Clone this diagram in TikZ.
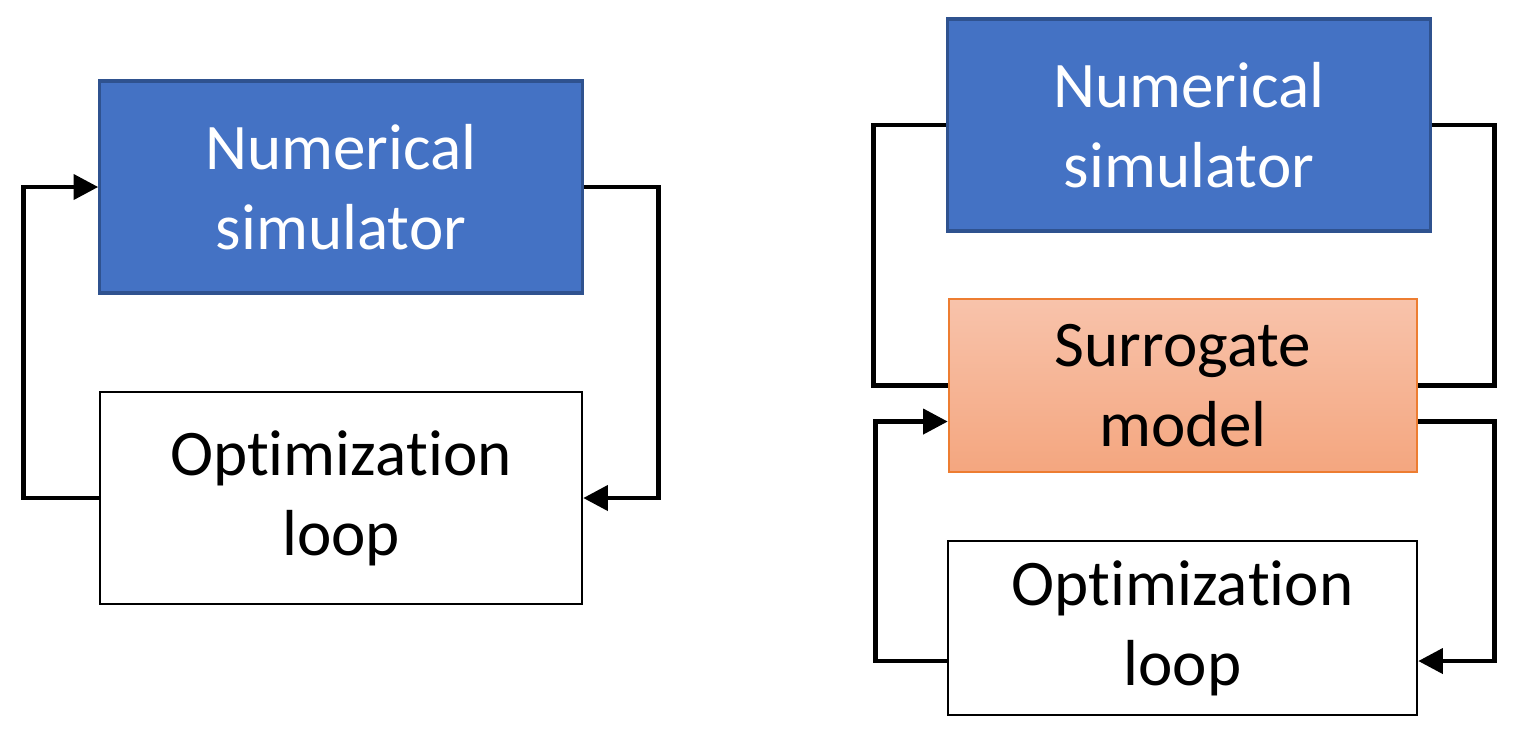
\documentclass[tikz,border=0pt]{standalone}
\usepackage{fontspec}
\setmainfont{Carlito}[Ligatures=NoCommon]
\usetikzlibrary{arrows.meta,positioning}
\definecolor{simfill}{HTML}{4472C4}
\definecolor{simedge}{HTML}{2F528F}
\definecolor{surtop}{HTML}{F8C3AB}
\definecolor{surbot}{HTML}{F4A67F}
\definecolor{suredge}{HTML}{ED7D31}
\tikzset{
  box/.style={rectangle, align=center, inner sep=0pt, font=\fontsize{18.5}{22.8}\selectfont},
  simbox/.style={box, fill=simfill, draw=simedge, line width=0.9pt, text=white, minimum width=4.82cm, minimum height=2.12cm},
  surbox/.style={box, top color=surtop, bottom color=surbot, draw=suredge, line width=0.6pt},
  optbox/.style={box, fill=white, draw=black, line width=0.6pt},
  wire/.style={line width=1.4pt},
  link/.style={wire, -{Triangle[length=7pt, width=7pt]}},
}
\newcommand{\optword}{Optimiza\mbox{t}ion}

\begin{document}
\begin{tikzpicture}[x=0.01cm, y=-0.01cm]
  \useasboundingbox (0,0) rectangle (1532,741);
  % plain loop
  \node[simbox] (numL) at (341,187) {Numerical\\simulator};
  \node[optbox, minimum width=4.82cm, minimum height=2.12cm] (optL) at (341,498) {\optword\\loop};
  \draw[link] (optL.west) -- ++(-75,0) |- (numL.west);
  \draw[link] (numL.east) -- ++(75,0) |- (optL.east);
  % loop with surrogate
  \node[simbox] (numR) at (1189,125) {Numerical\\simulator};
  \node[surbox, minimum width=4.68cm, minimum height=1.73cm] (surR) at (1183,385.5) {Surrogate\\model};
  \node[optbox, minimum width=4.69cm, minimum height=1.74cm] (optR) at (1182.5,628) {\optword\\loop};
  \coordinate (surIn) at ([yshift=-0.36cm]surR.west);
  \coordinate (surOut) at ([yshift=-0.36cm]surR.east);
  \coordinate (optIn) at ([yshift=-0.33cm]optR.east);
  \coordinate (optOut) at ([yshift=-0.33cm]optR.west);
  \draw[wire] (numR.west) -- ++(-73,0) |- (surR.west);
  \draw[wire] (numR.east) -- ++(63,0) |- (surR.east);
  \draw[link] (optOut) -- ++(-71,0) |- (surIn);
  \draw[link] (surOut) -- ++(76,0) |- (optIn);
\end{tikzpicture}
\end{document}
